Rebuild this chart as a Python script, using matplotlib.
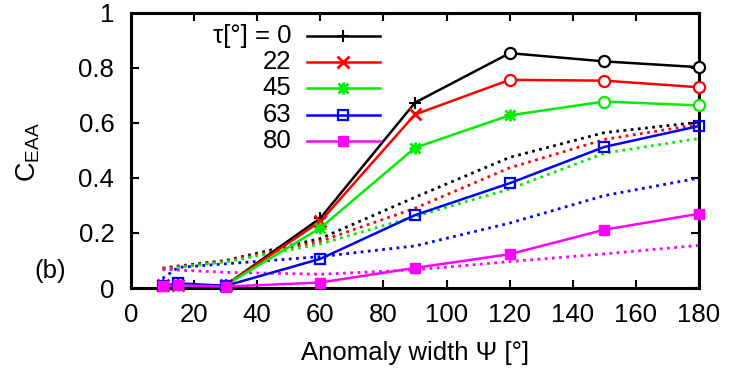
import matplotlib
matplotlib.use("Agg")
import matplotlib.pyplot as plt

plt.rcParams['font.family'] = ['Liberation Sans', 'DejaVu Sans']
plt.rcParams['mathtext.fontset'] = 'custom'
plt.rcParams['mathtext.rm'] = 'Liberation Sans'
plt.rcParams['mathtext.it'] = 'Liberation Sans:italic'

# ---- data ----
psi = [10, 15, 30, 60, 90, 120, 150, 180]
tau_labels = ["τ[°] = 0", "22", "45", "63", "80"]

c_tau0 = [0.010, 0.010, 0.010, 0.254, 0.674, 0.854, 0.824, 0.803]
c_tau22 = [0.010, 0.010, 0.010, 0.242, 0.631, 0.757, 0.754, 0.730]
c_tau45 = [0.010, 0.010, 0.010, 0.218, 0.510, 0.628, 0.678, 0.664]
c_tau63 = [0.008, 0.017, 0.008, 0.106, 0.265, 0.381, 0.513, 0.589]
c_tau80 = [0.008, 0.010, 0.005, 0.020, 0.073, 0.123, 0.212, 0.270]

d_tau0 = [0.072, 0.080, 0.100, 0.180, 0.330, 0.475, 0.565, 0.603]
d_tau22 = [0.070, 0.078, 0.098, 0.170, 0.290, 0.437, 0.540, 0.595]
d_tau45 = [0.065, 0.075, 0.095, 0.160, 0.260, 0.360, 0.490, 0.544]
d_tau63 = [0.035, 0.075, 0.088, 0.114, 0.153, 0.236, 0.336, 0.400]
d_tau80 = [0.068, 0.065, 0.057, 0.050, 0.066, 0.096, 0.124, 0.155]

xticks = [0, 20, 40, 60, 80, 100, 120, 140, 160, 180]
yticks = [0, 0.2, 0.4, 0.6, 0.8, 1]
ytick_labels = ["0", "0.2", "0.4", "0.6", "0.8", "1"]

# ---- style ----
colors = ['#000000', '#ff0000', '#00ee00', '#0000ff', '#ff00ff']
solid = [c_tau0, c_tau22, c_tau45, c_tau63, c_tau80]
dotted = [d_tau0, d_tau22, d_tau45, d_tau63, d_tau80]
# index from which the points are drawn as open circles (None = never)
circle_from = [5, 5, 6, None, None]

fig = plt.figure(figsize=(7.47, 3.74), dpi=100)
ax = fig.add_axes([131/747, 1-288/374, 568/747, 275/374])

FS = 18.5

for col, d in zip(colors, dotted):
    ax.plot(psi, d, color=col, lw=2.0, ls=(0, (1, 1.6)), zorder=2)

def draw_markers(ax, x, y, i, col, transform=None):
    kw = dict(clip_on=False, zorder=4, ls='none')
    if transform is not None:
        kw['transform'] = transform
    if i == 0:
        ax.plot(x, y, marker='+', ms=9, mew=1.5, color=col, **kw)
    elif i == 1:
        ax.plot(x, y, marker='x', ms=8, mew=2, color=col, **kw)
    elif i == 2:
        ax.plot(x, y, marker='+', ms=9, mew=2, color=col, **kw)
        ax.plot(x, y, marker='x', ms=7, mew=2, color=col, **kw)
    elif i == 3:
        ax.plot(x, y, marker='s', ms=7, mew=1.6, mfc='none', mec=col, **kw)
    else:
        ax.plot(x, y, marker='s', ms=7.5, mew=1, mfc=col, mec=col, **kw)

for i, (col, s, cf) in enumerate(zip(colors, solid, circle_from)):
    ax.plot(psi, s, color=col, lw=1.8, zorder=3, clip_on=False)
    n = cf if cf is not None else len(psi)
    draw_markers(ax, psi[:n], s[:n], i, col)
    if cf is not None:
        ax.plot(psi[cf:], s[cf:], ls='none', marker='o', ms=8, mfc='white',
                mec=col, mew=1.6, zorder=5, clip_on=False)

ax.set_xlim(0, 180)
ax.set_ylim(0, 1)
ax.set_xticks(xticks)
ax.set_xticklabels([str(t) for t in xticks])
ax.set_yticks(yticks)
ax.set_yticklabels(ytick_labels)
ax.tick_params(direction='in', length=6, width=1.5, top=True, right=True,
               labelsize=FS)
ax.tick_params(axis='x', pad=11)
ax.tick_params(axis='y', pad=12)
for sp in ax.spines.values():
    sp.set_linewidth(2.2)

ax.set_xlabel("Anomaly width Ψ [°]", fontsize=FS, labelpad=10)
fig.text(28/747, 1-152/374, r"C$_{\mathrm{EAA}}$", rotation=90, fontsize=FS + 1,
         ha='center', va='center')
fig.text(50/747, 1-271/374, "(b)", fontsize=FS, ha='center', va='center')

# ---- legend (gnuplot style, text right-aligned) ----
rows_y = [0.918, 0.822, 0.726, 0.629, 0.533]
for i, (lab, col, yy) in enumerate(zip(tau_labels, colors, rows_y)):
    ax.text(0.282, yy, lab, transform=ax.transAxes, ha='right', va='center',
            fontsize=FS)
    ax.plot([0.31, 0.438], [yy, yy], color=col, lw=1.8, transform=ax.transAxes,
            clip_on=False, zorder=4)
    draw_markers(ax, [0.374], [yy], i, col, transform=ax.transAxes)

fig.savefig("out.png", dpi=100)
